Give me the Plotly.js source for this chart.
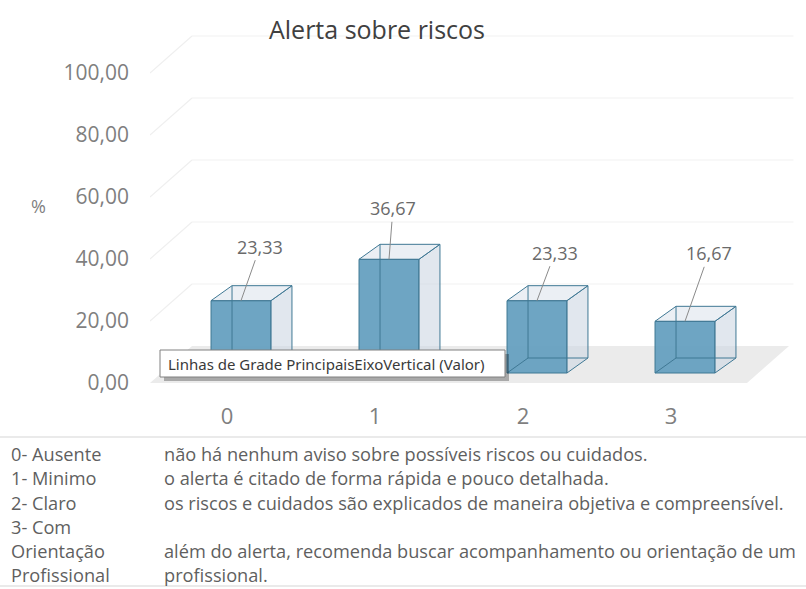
<!DOCTYPE html>
<html>
<head>
<meta charset="utf-8">
<script src="https://cdn.plot.ly/plotly-3.0.1.min.js"></script>
<style>html,body{margin:0;padding:0;background:#fff;}#chart{width:806px;height:589px;}</style>
</head>
<body>
<div id="chart"></div>
<script>
// ---- data ----
const categories = ['0', '1', '2', '3'];
const values = [23.33, 36.67, 23.33, 16.67];
const yTicks = [0, 20, 40, 60, 80, 100];
const tableLabels = ['0- Ausente', '1- Minimo', '2- Claro', '3- Com', 'Orientação', 'Profissional'];
const tableTexts = [
  'não há nenhum aviso sobre possíveis riscos ou cuidados.',
  'o alerta é citado de forma rápida e pouco detalhada.',
  'os riscos e cuidados são explicados de maneira objetiva e compreensível.',
  '',
  'além do alerta, recomenda buscar acompanhamento ou orientação de um',
  'profissional.'
];
const chartTitle = 'Alerta sobre riscos';
const yTitle = '%';
const tooltipText = 'Linhas de Grade PrincipaisEixoVertical (Valor)';

// ---- geometry / style ----
const W = 806, H = 589;
const L = 150, R = 6, T = 23, B = 206;
const plotW = W - L - R, plotH = H - T - B;
const pxPerX = 148, pxPerY = 3.1;
const xRange = [-(227 - L) / pxPerX, (W - R - 227) / pxPerX];
const yRange = [0, plotH / pxPerY];
const barOffset = -0.108, barWidth = 0.405, barBase = 10 / pxPerY;
const bdx = 21 / pxPerX, bdy = 15 / pxPerY;       // bar depth
const wdx = 42 / pxPerX, wdy = 37 / pxPerY;       // wall depth
const floorRight = (747 - 227) / pxPerX;
const labelOffsets = [[19, -54], [4, -51], [18, -48], [24, -68]];
const rowY = [454, 478, 503, 527, 551, 575];

const px2x = p => (p - L) / plotW;
const py2y = p => (H - B - p) / plotH;
const fmt = v => v.toFixed(2).replace('.', ',');
const P = pts => 'M ' + pts.map(p => p[0] + ',' + p[1]).join(' L ') + ' Z';
const Ln = pts => 'M ' + pts.map(p => p[0] + ',' + p[1]).join(' L ');

const edge = '#3f7894';
const shapes = [];

// floor
shapes.push({type: 'path', xref: 'x', yref: 'y', layer: 'below',
  path: P([[xRange[0], 0], [floorRight, 0], [floorRight + wdx, wdy], [xRange[0] + wdx, wdy]]),
  fillcolor: '#ebebeb', line: {width: 0}});
// gridlines on back wall and side wall
yTicks.forEach(v => {
  if (v === 0) return;
  shapes.push({type: 'path', xref: 'x', yref: 'y', layer: 'below',
    path: Ln([[xRange[0] + wdx, v + wdy], [floorRight + wdx + 0.03, v + wdy]]),
    line: {color: '#f2f2f2', width: 1.2}});
  shapes.push({type: 'path', xref: 'x', yref: 'y', layer: 'below',
    path: Ln([[xRange[0], v], [xRange[0] + wdx, v + wdy]]),
    line: {color: '#efefef', width: 1.2}});
});

// 3D box parts
values.forEach((v, i) => {
  const x0 = i + barOffset, x1 = x0 + barWidth;
  const b = barBase, t = barBase + v;
  shapes.push({type: 'path', xref: 'x', yref: 'y', layer: 'above',
    path: P([[x1, b], [x1 + bdx, b + bdy], [x1 + bdx, t + bdy], [x1, t]]),
    fillcolor: 'rgba(205,215,226,0.6)', line: {color: edge, width: 1}});
  shapes.push({type: 'path', xref: 'x', yref: 'y', layer: 'above',
    path: P([[x0, t], [x0 + bdx, t + bdy], [x1 + bdx, t + bdy], [x1, t]]),
    fillcolor: 'rgba(215,224,233,0.5)', line: {color: edge, width: 1}});
  shapes.push({type: 'path', xref: 'x', yref: 'y', layer: 'above',
    path: Ln([[x0 + bdx, t + bdy], [x0 + bdx, b + bdy], [x1 + bdx, b + bdy]]),
    line: {color: edge, width: 1}});
  shapes.push({type: 'path', xref: 'x', yref: 'y', layer: 'above',
    path: Ln([[x0, b], [x0 + bdx, b + bdy]]),
    line: {color: edge, width: 1}});
});

// tooltip box
shapes.push({type: 'rect', xref: 'paper', yref: 'paper', layer: 'above',
  x0: px2x(164), x1: px2x(509), y0: py2y(381), y1: py2y(354),
  fillcolor: 'rgba(0,0,0,0.28)', line: {width: 0}});
shapes.push({type: 'rect', xref: 'paper', yref: 'paper', layer: 'above',
  x0: px2x(160), x1: px2x(505), y0: py2y(377), y1: py2y(350),
  fillcolor: '#ffffff', line: {color: '#808080', width: 1}});

// table lines
[437, 586].forEach(py => {
  shapes.push({type: 'line', xref: 'paper', yref: 'paper',
    x0: px2x(0), x1: px2x(W), y0: py2y(py), y1: py2y(py),
    line: {color: '#e3e3e3', width: 1.5}});
});

const annotations = [];
values.forEach((v, i) => {
  annotations.push({x: i + barOffset + barWidth / 2, y: barBase + v, xref: 'x', yref: 'y',
    text: fmt(v), showarrow: true, arrowhead: 0, arrowwidth: 1, arrowcolor: '#8a8a8a',
    ax: labelOffsets[i][0], ay: labelOffsets[i][1], standoff: 0,
    font: {family: 'Open Sans, sans-serif', size: 18, color: '#6a6a6a'}});
});
annotations.push({xref: 'paper', yref: 'paper', x: px2x(38), y: py2y(206),
  text: yTitle, showarrow: false, xanchor: 'center', yanchor: 'middle',
  font: {family: 'Open Sans, sans-serif', size: 18, color: '#7f7f7f'}});
annotations.push({xref: 'paper', yref: 'paper', x: px2x(166), y: py2y(363.5),
  text: tooltipText, showarrow: false, xanchor: 'left', yanchor: 'middle',
  font: {family: 'Noto Sans, sans-serif', size: 15, color: '#3a3a3a'}});
tableLabels.forEach((t, k) => {
  annotations.push({xref: 'paper', yref: 'paper', x: px2x(9), y: py2y(rowY[k]),
    text: t, showarrow: false, xanchor: 'left', yanchor: 'middle',
    font: {family: 'Open Sans, sans-serif', size: 18.2, color: '#5f5f5f'}});
  if (tableTexts[k]) annotations.push({xref: 'paper', yref: 'paper', x: px2x(162), y: py2y(rowY[k]),
    text: tableTexts[k], showarrow: false, xanchor: 'left', yanchor: 'middle',
    font: {family: 'Open Sans, sans-serif', size: 18.2, color: '#5f5f5f'}});
});

const trace = {
  type: 'bar',
  x: categories.map((c, i) => i),
  y: values,
  base: barBase,
  offset: barOffset,
  width: barWidth,
  marker: {color: 'rgba(98,157,190,0.92)', line: {color: edge, width: 1}},
  hoverinfo: 'skip'
};

const layout = {
  width: W, height: H,
  margin: {l: L, r: R, t: T, b: B},
  paper_bgcolor: '#ffffff', plot_bgcolor: 'rgba(0,0,0,0)',
  separators: ',.',
  showlegend: false,
  title: {text: chartTitle, xref: 'container', yref: 'container', x: 377 / W, y: 1 - 30 / H,
    xanchor: 'center', yanchor: 'middle',
    font: {family: 'Open Sans, sans-serif', size: 25, color: '#404040'}},
  xaxis: {range: xRange, tickvals: categories.map((c, i) => i), ticktext: categories,
    showgrid: false, zeroline: false, showline: false, ticks: '', ticklabelstandoff: 18,
    tickfont: {family: 'Open Sans, sans-serif', size: 22, color: '#7f7f7f'}, fixedrange: true},
  yaxis: {range: yRange, tickvals: yTicks, tickformat: '.2f',
    showgrid: false, zeroline: false, showline: false, ticks: '', ticklabelstandoff: 20,
    tickfont: {family: 'Open Sans, sans-serif', size: 21, color: '#7f7f7f'}, fixedrange: true},
  shapes: shapes,
  annotations: annotations
};

Plotly.newPlot('chart', [trace], layout, {displayModeBar: false, staticPlot: true});
</script>
</body>
</html>
